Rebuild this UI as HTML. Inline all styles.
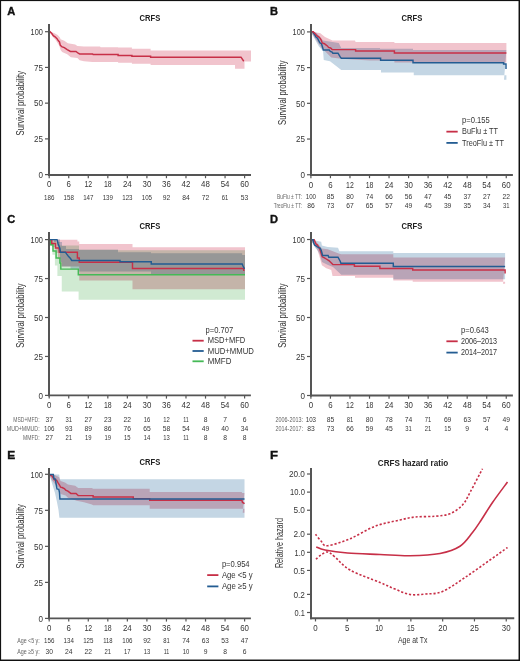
<!DOCTYPE html>
<html><head><meta charset="utf-8"><style>
html,body{margin:0;padding:0;background:#fff;}
body{width:520px;height:661px;overflow:hidden;}
svg{display:block;font-family:"Liberation Sans", sans-serif;will-change:transform;}
</style></head><body>
<svg width="520" height="661" viewBox="0 0 520 661">
<rect x="0" y="0" width="520" height="661" fill="#fff"/>
<text x="7.2" y="15.2" font-size="10.6" text-anchor="start" fill="#111" font-weight="bold" textLength="8.0" lengthAdjust="spacingAndGlyphs" stroke="#111" stroke-width="0.35">A</text>
<text x="149.9" y="21.0" font-size="8.9" text-anchor="middle" fill="#222" font-weight="bold" textLength="20.8" lengthAdjust="spacingAndGlyphs">CRFS</text>
<polygon points="49.20,31.50 54.00,33.10 57.70,34.90 59.90,37.50 60.60,39.30 64.30,40.80 67.90,43.35 75.20,44.40 77.40,45.90 84.00,46.60 100.00,46.60 100.60,47.25 118.10,47.25 118.10,47.50 131.90,47.50 131.90,48.75 150.60,48.75 150.60,50.60 251.00,50.60 251.00,61.50 244.50,61.50 244.50,68.75 235.00,68.75 235.00,65.00 150.60,65.00 150.60,63.75 131.90,63.75 131.90,62.75 118.10,62.75 118.10,61.90 92.50,61.90 84.00,61.30 79.60,60.20 77.40,58.00 70.85,57.20 67.20,54.30 62.10,52.10 60.60,49.90 59.20,45.50 55.50,39.70 53.30,37.50 49.20,31.70" fill="#f1c4cd" stroke="none" style="mix-blend-mode:multiply"/>
<polyline points="49.60,31.40 51.85,33.50 53.30,35.70 55.10,36.80 57.00,38.60 58.40,40.80 59.50,41.90 60.25,45.20 61.70,46.60 64.30,47.70 67.20,49.60 70.50,51.40 76.00,51.40 78.20,53.20 79.60,53.95 92.50,53.95 93.10,54.40 118.10,54.40 118.10,55.40 131.90,55.40 131.90,56.25 150.60,56.25 150.60,57.20 241.00,57.20 243.75,61.25" fill="none" stroke="#c72f47" stroke-width="1.45" stroke-linejoin="miter"/>
<line x1="49.0" y1="24.0" x2="49.0" y2="175.9" stroke="#555" stroke-width="2"/>
<line x1="48.0" y1="175.0" x2="251.0" y2="175.0" stroke="#555" stroke-width="1.8"/>
<line x1="45.0" y1="31.7" x2="49.0" y2="31.7" stroke="#555" stroke-width="1.2"/>
<text x="42.9" y="34.9" font-size="9.2" text-anchor="end" fill="#353535" font-weight="normal" textLength="12.3" lengthAdjust="spacingAndGlyphs">100</text>
<line x1="45.0" y1="67.425" x2="49.0" y2="67.425" stroke="#555" stroke-width="1.2"/>
<text x="42.9" y="70.625" font-size="9.2" text-anchor="end" fill="#353535" font-weight="normal" textLength="9.0" lengthAdjust="spacingAndGlyphs">75</text>
<line x1="45.0" y1="103.15" x2="49.0" y2="103.15" stroke="#555" stroke-width="1.2"/>
<text x="42.9" y="106.35000000000001" font-size="9.2" text-anchor="end" fill="#353535" font-weight="normal" textLength="9.0" lengthAdjust="spacingAndGlyphs">50</text>
<line x1="45.0" y1="138.875" x2="49.0" y2="138.875" stroke="#555" stroke-width="1.2"/>
<text x="42.9" y="142.075" font-size="9.2" text-anchor="end" fill="#353535" font-weight="normal" textLength="9.0" lengthAdjust="spacingAndGlyphs">25</text>
<line x1="45.0" y1="174.6" x2="49.0" y2="174.6" stroke="#555" stroke-width="1.2"/>
<text x="42.9" y="177.79999999999998" font-size="9.2" text-anchor="end" fill="#353535" font-weight="normal" textLength="4.5" lengthAdjust="spacingAndGlyphs">0</text>
<line x1="49.2" y1="175.0" x2="49.2" y2="178.2" stroke="#555" stroke-width="1.2"/>
<text x="49.2" y="187.4" font-size="9.4" text-anchor="middle" fill="#353535" font-weight="normal" textLength="4.4" lengthAdjust="spacingAndGlyphs">0</text>
<line x1="68.74000000000001" y1="175.0" x2="68.74000000000001" y2="178.2" stroke="#555" stroke-width="1.2"/>
<text x="68.74000000000001" y="187.4" font-size="9.4" text-anchor="middle" fill="#353535" font-weight="normal" textLength="4.4" lengthAdjust="spacingAndGlyphs">6</text>
<line x1="88.28" y1="175.0" x2="88.28" y2="178.2" stroke="#555" stroke-width="1.2"/>
<text x="88.28" y="187.4" font-size="9.4" text-anchor="middle" fill="#353535" font-weight="normal" textLength="7.7" lengthAdjust="spacingAndGlyphs">12</text>
<line x1="107.82" y1="175.0" x2="107.82" y2="178.2" stroke="#555" stroke-width="1.2"/>
<text x="107.82" y="187.4" font-size="9.4" text-anchor="middle" fill="#353535" font-weight="normal" textLength="7.7" lengthAdjust="spacingAndGlyphs">18</text>
<line x1="127.36" y1="175.0" x2="127.36" y2="178.2" stroke="#555" stroke-width="1.2"/>
<text x="127.36" y="187.4" font-size="9.4" text-anchor="middle" fill="#353535" font-weight="normal" textLength="8.8" lengthAdjust="spacingAndGlyphs">24</text>
<line x1="146.89999999999998" y1="175.0" x2="146.89999999999998" y2="178.2" stroke="#555" stroke-width="1.2"/>
<text x="146.89999999999998" y="187.4" font-size="9.4" text-anchor="middle" fill="#353535" font-weight="normal" textLength="8.8" lengthAdjust="spacingAndGlyphs">30</text>
<line x1="166.44" y1="175.0" x2="166.44" y2="178.2" stroke="#555" stroke-width="1.2"/>
<text x="166.44" y="187.4" font-size="9.4" text-anchor="middle" fill="#353535" font-weight="normal" textLength="8.8" lengthAdjust="spacingAndGlyphs">36</text>
<line x1="185.98000000000002" y1="175.0" x2="185.98000000000002" y2="178.2" stroke="#555" stroke-width="1.2"/>
<text x="185.98000000000002" y="187.4" font-size="9.4" text-anchor="middle" fill="#353535" font-weight="normal" textLength="8.8" lengthAdjust="spacingAndGlyphs">42</text>
<line x1="205.51999999999998" y1="175.0" x2="205.51999999999998" y2="178.2" stroke="#555" stroke-width="1.2"/>
<text x="205.51999999999998" y="187.4" font-size="9.4" text-anchor="middle" fill="#353535" font-weight="normal" textLength="8.8" lengthAdjust="spacingAndGlyphs">48</text>
<line x1="225.06" y1="175.0" x2="225.06" y2="178.2" stroke="#555" stroke-width="1.2"/>
<text x="225.06" y="187.4" font-size="9.4" text-anchor="middle" fill="#353535" font-weight="normal" textLength="8.8" lengthAdjust="spacingAndGlyphs">54</text>
<line x1="244.59999999999997" y1="175.0" x2="244.59999999999997" y2="178.2" stroke="#555" stroke-width="1.2"/>
<text x="244.59999999999997" y="187.4" font-size="9.4" text-anchor="middle" fill="#353535" font-weight="normal" textLength="8.8" lengthAdjust="spacingAndGlyphs">60</text>
<text x="0" y="0" font-size="10" text-anchor="middle" fill="#353535" textLength="64.5" lengthAdjust="spacingAndGlyphs" transform="translate(23.9,103.2) rotate(-90)">Survival probability</text>
<text x="49.20" y="200.0" font-size="7.2" text-anchor="middle" fill="#353535" font-weight="normal" textLength="10.3" lengthAdjust="spacingAndGlyphs">186</text>
<text x="68.74" y="200.0" font-size="7.2" text-anchor="middle" fill="#353535" font-weight="normal" textLength="10.3" lengthAdjust="spacingAndGlyphs">158</text>
<text x="88.28" y="200.0" font-size="7.2" text-anchor="middle" fill="#353535" font-weight="normal" textLength="10.3" lengthAdjust="spacingAndGlyphs">147</text>
<text x="107.82" y="200.0" font-size="7.2" text-anchor="middle" fill="#353535" font-weight="normal" textLength="10.3" lengthAdjust="spacingAndGlyphs">139</text>
<text x="127.36" y="200.0" font-size="7.2" text-anchor="middle" fill="#353535" font-weight="normal" textLength="10.3" lengthAdjust="spacingAndGlyphs">123</text>
<text x="146.90" y="200.0" font-size="7.2" text-anchor="middle" fill="#353535" font-weight="normal" textLength="10.3" lengthAdjust="spacingAndGlyphs">105</text>
<text x="166.44" y="200.0" font-size="7.2" text-anchor="middle" fill="#353535" font-weight="normal" textLength="7.5" lengthAdjust="spacingAndGlyphs">92</text>
<text x="185.98" y="200.0" font-size="7.2" text-anchor="middle" fill="#353535" font-weight="normal" textLength="7.5" lengthAdjust="spacingAndGlyphs">84</text>
<text x="205.52" y="200.0" font-size="7.2" text-anchor="middle" fill="#353535" font-weight="normal" textLength="7.5" lengthAdjust="spacingAndGlyphs">72</text>
<text x="225.06" y="200.0" font-size="7.2" text-anchor="middle" fill="#353535" font-weight="normal" textLength="6.55" lengthAdjust="spacingAndGlyphs">61</text>
<text x="244.60" y="200.0" font-size="7.2" text-anchor="middle" fill="#353535" font-weight="normal" textLength="7.5" lengthAdjust="spacingAndGlyphs">53</text>
<text x="270" y="15.2" font-size="10.6" text-anchor="start" fill="#111" font-weight="bold" textLength="8.0" lengthAdjust="spacingAndGlyphs" stroke="#111" stroke-width="0.35">B</text>
<text x="411.95" y="21.0" font-size="8.9" text-anchor="middle" fill="#222" font-weight="bold" textLength="20.8" lengthAdjust="spacingAndGlyphs">CRFS</text>
<polygon points="310.90,31.90 316.25,32.50 323.00,40.60 338.75,43.10 341.25,48.10 380.00,48.10 380.00,48.75 413.00,48.75 413.00,50.00 506.40,50.00 504.00,79.80 506.40,79.80 506.40,75.30 413.75,75.30 413.75,72.50 381.00,72.50 381.00,70.00 341.25,70.00 330.00,61.25 323.75,60.00 323.10,51.25 318.75,46.25 310.90,31.90" fill="#c4d6e4" stroke="none" style="mix-blend-mode:multiply"/>
<polygon points="310.90,31.90 320.00,33.10 325.00,36.90 332.50,40.60 355.00,40.60 355.60,41.90 394.40,41.90 394.40,43.10 506.40,43.10 506.40,62.50 394.40,62.50 394.40,60.60 370.00,60.60 341.25,58.75 331.25,57.50 327.50,53.75 321.25,47.50 310.90,31.90" fill="#f1c4cd" stroke="none" style="mix-blend-mode:multiply"/>
<polyline points="310.90,31.80 312.75,31.80 313.85,33.50 315.30,35.70 316.00,37.10 317.50,38.20 318.60,40.40 320.00,43.00 321.50,43.70 322.25,46.30 323.35,49.90 329.20,49.90 330.30,51.40 332.10,52.10 332.85,53.20 338.00,53.20 340.20,56.90 341.30,58.20 380.60,58.20 380.60,60.25 413.00,60.25 413.00,62.80 503.60,62.80 503.60,64.00 506.00,64.00 506.00,68.90" fill="none" stroke="#235c92" stroke-width="1.45" stroke-linejoin="miter"/>
<polyline points="310.90,31.80 313.10,31.80 314.60,33.10 316.00,34.60 317.10,36.00 319.00,37.10 320.40,38.60 321.20,40.10 322.25,43.00 324.45,43.70 325.90,44.80 327.40,45.90 328.50,47.40 329.90,47.70 331.40,48.50 332.10,49.60 355.60,49.60 355.60,50.90 394.40,50.90 394.40,52.90 506.40,52.90" fill="none" stroke="#c72f47" stroke-width="1.45" stroke-linejoin="miter"/>
<line x1="311.0" y1="24.0" x2="311.0" y2="175.9" stroke="#555" stroke-width="2"/>
<line x1="310.0" y1="175.0" x2="512.9" y2="175.0" stroke="#555" stroke-width="1.8"/>
<line x1="307.0" y1="31.9" x2="311.0" y2="31.9" stroke="#555" stroke-width="1.2"/>
<text x="304.9" y="35.1" font-size="9.2" text-anchor="end" fill="#353535" font-weight="normal" textLength="12.3" lengthAdjust="spacingAndGlyphs">100</text>
<line x1="307.0" y1="67.6125" x2="311.0" y2="67.6125" stroke="#555" stroke-width="1.2"/>
<text x="304.9" y="70.8125" font-size="9.2" text-anchor="end" fill="#353535" font-weight="normal" textLength="9.0" lengthAdjust="spacingAndGlyphs">75</text>
<line x1="307.0" y1="103.32499999999999" x2="311.0" y2="103.32499999999999" stroke="#555" stroke-width="1.2"/>
<text x="304.9" y="106.52499999999999" font-size="9.2" text-anchor="end" fill="#353535" font-weight="normal" textLength="9.0" lengthAdjust="spacingAndGlyphs">50</text>
<line x1="307.0" y1="139.0375" x2="311.0" y2="139.0375" stroke="#555" stroke-width="1.2"/>
<text x="304.9" y="142.23749999999998" font-size="9.2" text-anchor="end" fill="#353535" font-weight="normal" textLength="9.0" lengthAdjust="spacingAndGlyphs">25</text>
<line x1="307.0" y1="174.75" x2="311.0" y2="174.75" stroke="#555" stroke-width="1.2"/>
<text x="304.9" y="177.95" font-size="9.2" text-anchor="end" fill="#353535" font-weight="normal" textLength="4.5" lengthAdjust="spacingAndGlyphs">0</text>
<line x1="310.9" y1="175.0" x2="310.9" y2="178.2" stroke="#555" stroke-width="1.2"/>
<text x="310.9" y="187.55" font-size="9.4" text-anchor="middle" fill="#353535" font-weight="normal" textLength="4.4" lengthAdjust="spacingAndGlyphs">0</text>
<line x1="330.435" y1="175.0" x2="330.435" y2="178.2" stroke="#555" stroke-width="1.2"/>
<text x="330.435" y="187.55" font-size="9.4" text-anchor="middle" fill="#353535" font-weight="normal" textLength="4.4" lengthAdjust="spacingAndGlyphs">6</text>
<line x1="349.96999999999997" y1="175.0" x2="349.96999999999997" y2="178.2" stroke="#555" stroke-width="1.2"/>
<text x="349.96999999999997" y="187.55" font-size="9.4" text-anchor="middle" fill="#353535" font-weight="normal" textLength="7.7" lengthAdjust="spacingAndGlyphs">12</text>
<line x1="369.505" y1="175.0" x2="369.505" y2="178.2" stroke="#555" stroke-width="1.2"/>
<text x="369.505" y="187.55" font-size="9.4" text-anchor="middle" fill="#353535" font-weight="normal" textLength="7.7" lengthAdjust="spacingAndGlyphs">18</text>
<line x1="389.03999999999996" y1="175.0" x2="389.03999999999996" y2="178.2" stroke="#555" stroke-width="1.2"/>
<text x="389.03999999999996" y="187.55" font-size="9.4" text-anchor="middle" fill="#353535" font-weight="normal" textLength="8.8" lengthAdjust="spacingAndGlyphs">24</text>
<line x1="408.575" y1="175.0" x2="408.575" y2="178.2" stroke="#555" stroke-width="1.2"/>
<text x="408.575" y="187.55" font-size="9.4" text-anchor="middle" fill="#353535" font-weight="normal" textLength="8.8" lengthAdjust="spacingAndGlyphs">30</text>
<line x1="428.11" y1="175.0" x2="428.11" y2="178.2" stroke="#555" stroke-width="1.2"/>
<text x="428.11" y="187.55" font-size="9.4" text-anchor="middle" fill="#353535" font-weight="normal" textLength="8.8" lengthAdjust="spacingAndGlyphs">36</text>
<line x1="447.645" y1="175.0" x2="447.645" y2="178.2" stroke="#555" stroke-width="1.2"/>
<text x="447.645" y="187.55" font-size="9.4" text-anchor="middle" fill="#353535" font-weight="normal" textLength="8.8" lengthAdjust="spacingAndGlyphs">42</text>
<line x1="467.18" y1="175.0" x2="467.18" y2="178.2" stroke="#555" stroke-width="1.2"/>
<text x="467.18" y="187.55" font-size="9.4" text-anchor="middle" fill="#353535" font-weight="normal" textLength="8.8" lengthAdjust="spacingAndGlyphs">48</text>
<line x1="486.71500000000003" y1="175.0" x2="486.71500000000003" y2="178.2" stroke="#555" stroke-width="1.2"/>
<text x="486.71500000000003" y="187.55" font-size="9.4" text-anchor="middle" fill="#353535" font-weight="normal" textLength="8.8" lengthAdjust="spacingAndGlyphs">54</text>
<line x1="506.25" y1="175.0" x2="506.25" y2="178.2" stroke="#555" stroke-width="1.2"/>
<text x="506.25" y="187.55" font-size="9.4" text-anchor="middle" fill="#353535" font-weight="normal" textLength="8.8" lengthAdjust="spacingAndGlyphs">60</text>
<text x="0" y="0" font-size="10" text-anchor="middle" fill="#353535" textLength="64.5" lengthAdjust="spacingAndGlyphs" transform="translate(285.6,92.7) rotate(-90)">Survival probability</text>
<text x="310.90" y="198.6" font-size="7.2" text-anchor="middle" fill="#353535" font-weight="normal" textLength="10.3" lengthAdjust="spacingAndGlyphs">100</text>
<text x="330.44" y="198.6" font-size="7.2" text-anchor="middle" fill="#353535" font-weight="normal" textLength="7.5" lengthAdjust="spacingAndGlyphs">85</text>
<text x="349.97" y="198.6" font-size="7.2" text-anchor="middle" fill="#353535" font-weight="normal" textLength="7.5" lengthAdjust="spacingAndGlyphs">80</text>
<text x="369.50" y="198.6" font-size="7.2" text-anchor="middle" fill="#353535" font-weight="normal" textLength="7.5" lengthAdjust="spacingAndGlyphs">74</text>
<text x="389.04" y="198.6" font-size="7.2" text-anchor="middle" fill="#353535" font-weight="normal" textLength="7.5" lengthAdjust="spacingAndGlyphs">66</text>
<text x="408.57" y="198.6" font-size="7.2" text-anchor="middle" fill="#353535" font-weight="normal" textLength="7.5" lengthAdjust="spacingAndGlyphs">56</text>
<text x="428.11" y="198.6" font-size="7.2" text-anchor="middle" fill="#353535" font-weight="normal" textLength="7.5" lengthAdjust="spacingAndGlyphs">47</text>
<text x="447.64" y="198.6" font-size="7.2" text-anchor="middle" fill="#353535" font-weight="normal" textLength="7.5" lengthAdjust="spacingAndGlyphs">45</text>
<text x="467.18" y="198.6" font-size="7.2" text-anchor="middle" fill="#353535" font-weight="normal" textLength="7.5" lengthAdjust="spacingAndGlyphs">37</text>
<text x="486.72" y="198.6" font-size="7.2" text-anchor="middle" fill="#353535" font-weight="normal" textLength="7.5" lengthAdjust="spacingAndGlyphs">27</text>
<text x="506.25" y="198.6" font-size="7.2" text-anchor="middle" fill="#353535" font-weight="normal" textLength="7.5" lengthAdjust="spacingAndGlyphs">22</text>
<text x="301.9" y="198.6" font-size="7.0" text-anchor="end" fill="#666" font-weight="normal" textLength="25" lengthAdjust="spacingAndGlyphs">BuFlu ± TT:</text>
<text x="310.90" y="208.0" font-size="7.2" text-anchor="middle" fill="#353535" font-weight="normal" textLength="7.5" lengthAdjust="spacingAndGlyphs">86</text>
<text x="330.44" y="208.0" font-size="7.2" text-anchor="middle" fill="#353535" font-weight="normal" textLength="7.5" lengthAdjust="spacingAndGlyphs">73</text>
<text x="349.97" y="208.0" font-size="7.2" text-anchor="middle" fill="#353535" font-weight="normal" textLength="7.5" lengthAdjust="spacingAndGlyphs">67</text>
<text x="369.50" y="208.0" font-size="7.2" text-anchor="middle" fill="#353535" font-weight="normal" textLength="7.5" lengthAdjust="spacingAndGlyphs">65</text>
<text x="389.04" y="208.0" font-size="7.2" text-anchor="middle" fill="#353535" font-weight="normal" textLength="7.5" lengthAdjust="spacingAndGlyphs">57</text>
<text x="408.57" y="208.0" font-size="7.2" text-anchor="middle" fill="#353535" font-weight="normal" textLength="7.5" lengthAdjust="spacingAndGlyphs">49</text>
<text x="428.11" y="208.0" font-size="7.2" text-anchor="middle" fill="#353535" font-weight="normal" textLength="7.5" lengthAdjust="spacingAndGlyphs">45</text>
<text x="447.64" y="208.0" font-size="7.2" text-anchor="middle" fill="#353535" font-weight="normal" textLength="7.5" lengthAdjust="spacingAndGlyphs">39</text>
<text x="467.18" y="208.0" font-size="7.2" text-anchor="middle" fill="#353535" font-weight="normal" textLength="7.5" lengthAdjust="spacingAndGlyphs">35</text>
<text x="486.72" y="208.0" font-size="7.2" text-anchor="middle" fill="#353535" font-weight="normal" textLength="7.5" lengthAdjust="spacingAndGlyphs">34</text>
<text x="506.25" y="208.0" font-size="7.2" text-anchor="middle" fill="#353535" font-weight="normal" textLength="6.55" lengthAdjust="spacingAndGlyphs">31</text>
<text x="301.9" y="208.0" font-size="7.0" text-anchor="end" fill="#666" font-weight="normal" textLength="28.2" lengthAdjust="spacingAndGlyphs">TreoFlu ± TT:</text>
<text x="462" y="123.30000000000001" font-size="8.8" text-anchor="start" fill="#353535" font-weight="normal" textLength="27.7" lengthAdjust="spacingAndGlyphs">p=0.155</text>
<line x1="446.4" y1="131.65" x2="457.7" y2="131.65" stroke="#c72f47" stroke-width="1.8"/>
<text x="462" y="134.25" font-size="8.8" text-anchor="start" fill="#353535" font-weight="normal" textLength="36" lengthAdjust="spacingAndGlyphs">BuFlu ± TT</text>
<line x1="446.4" y1="142.9" x2="457.7" y2="142.9" stroke="#235c92" stroke-width="1.8"/>
<text x="462" y="145.5" font-size="8.8" text-anchor="start" fill="#353535" font-weight="normal" textLength="41.9" lengthAdjust="spacingAndGlyphs">TreoFlu ± TT</text>
<text x="7.2" y="223.3" font-size="10.6" text-anchor="start" fill="#111" font-weight="bold" textLength="8.0" lengthAdjust="spacingAndGlyphs" stroke="#111" stroke-width="0.35">C</text>
<text x="149.9" y="228.9" font-size="8.9" text-anchor="middle" fill="#222" font-weight="bold" textLength="20.8" lengthAdjust="spacingAndGlyphs">CRFS</text>
<polygon points="49.20,239.60 52.00,239.60 52.00,240.00 56.00,240.00 56.00,242.00 60.00,242.00 60.00,245.40 79.00,245.40 79.00,249.75 118.00,249.75 118.00,250.20 245.00,250.20 245.00,299.75 78.60,299.75 78.60,291.60 61.75,291.60 61.75,276.00 57.40,276.00 57.40,265.40 54.90,265.40 54.90,254.75 52.40,254.75 52.40,246.00 50.50,246.00 50.50,239.60 49.20,239.60" fill="#d0ead2" stroke="none" style="mix-blend-mode:multiply"/>
<polygon points="49.20,239.60 57.00,239.60 57.00,239.60 60.00,239.60 60.00,242.00 62.00,242.00 62.00,246.00 66.00,246.00 66.00,249.00 79.00,249.00 79.00,249.75 118.00,249.75 118.00,252.20 151.00,252.20 151.00,253.20 242.20,253.20 242.20,255.00 245.00,255.00 245.00,274.00 151.00,274.00 151.00,271.60 79.00,271.60 79.00,269.00 70.50,269.00 70.50,266.60 62.00,266.60 62.00,262.00 60.00,262.00 60.00,252.00 58.50,252.00 58.50,246.00 57.40,246.00 57.40,242.00 54.00,242.00 54.00,239.60 49.20,239.60" fill="#c4d6e4" stroke="none" style="mix-blend-mode:multiply"/>
<polygon points="49.20,239.60 59.90,239.60 59.90,239.75 77.40,239.75 77.40,241.60 79.25,241.60 79.25,244.00 132.50,244.00 132.50,247.20 245.00,247.20 245.00,289.30 132.50,289.30 132.50,280.40 79.25,280.40 79.25,266.60 60.50,266.60 60.50,259.00 58.00,259.00 58.00,253.00 55.50,253.00 55.50,247.00 52.00,247.00 52.00,243.00 50.50,243.00 50.50,239.60 49.20,239.60" fill="#f1c4cd" stroke="none" style="mix-blend-mode:multiply"/>
<polyline points="49.20,239.60 50.75,239.60 50.75,244.75 53.00,244.75 53.00,251.00 56.10,251.00 56.10,257.90 59.90,257.90 59.90,262.90 60.80,262.90 60.80,269.10 78.30,269.10 78.30,274.75 245.00,274.75" fill="none" stroke="#45b956" stroke-width="1.45" stroke-linejoin="miter"/>
<polyline points="49.20,239.60 51.75,239.60 51.75,243.50 55.50,243.50 55.50,247.90 59.25,247.90 59.25,252.25 77.40,252.25 77.40,257.90 79.25,257.90 79.25,262.25 132.50,262.25 132.50,268.50 243.75,268.50 243.75,271.00" fill="none" stroke="#c72f47" stroke-width="1.45" stroke-linejoin="miter"/>
<polyline points="49.20,239.60 57.00,239.60 57.40,240.40 57.40,240.40 58.00,243.50 59.90,248.50 60.50,252.25 65.50,252.25 66.75,254.10 68.60,256.60 70.50,258.50 71.75,260.40 71.75,260.40 120.00,260.40 120.00,261.80 151.25,261.80 151.25,264.00 242.20,264.00 243.00,266.00 244.50,268.80" fill="none" stroke="#235c92" stroke-width="1.45" stroke-linejoin="miter"/>
<line x1="49.0" y1="232.0" x2="49.0" y2="396.29999999999995" stroke="#555" stroke-width="2"/>
<line x1="48.0" y1="395.4" x2="250.9" y2="395.4" stroke="#555" stroke-width="1.8"/>
<line x1="45.0" y1="239.6" x2="49.0" y2="239.6" stroke="#555" stroke-width="1.2"/>
<text x="42.9" y="242.79999999999998" font-size="9.2" text-anchor="end" fill="#353535" font-weight="normal" textLength="12.3" lengthAdjust="spacingAndGlyphs">100</text>
<line x1="45.0" y1="278.55" x2="49.0" y2="278.55" stroke="#555" stroke-width="1.2"/>
<text x="42.9" y="281.75" font-size="9.2" text-anchor="end" fill="#353535" font-weight="normal" textLength="9.0" lengthAdjust="spacingAndGlyphs">75</text>
<line x1="45.0" y1="317.5" x2="49.0" y2="317.5" stroke="#555" stroke-width="1.2"/>
<text x="42.9" y="320.7" font-size="9.2" text-anchor="end" fill="#353535" font-weight="normal" textLength="9.0" lengthAdjust="spacingAndGlyphs">50</text>
<line x1="45.0" y1="356.45" x2="49.0" y2="356.45" stroke="#555" stroke-width="1.2"/>
<text x="42.9" y="359.65" font-size="9.2" text-anchor="end" fill="#353535" font-weight="normal" textLength="9.0" lengthAdjust="spacingAndGlyphs">25</text>
<line x1="45.0" y1="395.4" x2="49.0" y2="395.4" stroke="#555" stroke-width="1.2"/>
<text x="42.9" y="398.59999999999997" font-size="9.2" text-anchor="end" fill="#353535" font-weight="normal" textLength="4.5" lengthAdjust="spacingAndGlyphs">0</text>
<line x1="49.2" y1="395.4" x2="49.2" y2="398.59999999999997" stroke="#555" stroke-width="1.2"/>
<text x="49.2" y="408.2" font-size="9.4" text-anchor="middle" fill="#353535" font-weight="normal" textLength="4.4" lengthAdjust="spacingAndGlyphs">0</text>
<line x1="68.74000000000001" y1="395.4" x2="68.74000000000001" y2="398.59999999999997" stroke="#555" stroke-width="1.2"/>
<text x="68.74000000000001" y="408.2" font-size="9.4" text-anchor="middle" fill="#353535" font-weight="normal" textLength="4.4" lengthAdjust="spacingAndGlyphs">6</text>
<line x1="88.28" y1="395.4" x2="88.28" y2="398.59999999999997" stroke="#555" stroke-width="1.2"/>
<text x="88.28" y="408.2" font-size="9.4" text-anchor="middle" fill="#353535" font-weight="normal" textLength="7.7" lengthAdjust="spacingAndGlyphs">12</text>
<line x1="107.82" y1="395.4" x2="107.82" y2="398.59999999999997" stroke="#555" stroke-width="1.2"/>
<text x="107.82" y="408.2" font-size="9.4" text-anchor="middle" fill="#353535" font-weight="normal" textLength="7.7" lengthAdjust="spacingAndGlyphs">18</text>
<line x1="127.36" y1="395.4" x2="127.36" y2="398.59999999999997" stroke="#555" stroke-width="1.2"/>
<text x="127.36" y="408.2" font-size="9.4" text-anchor="middle" fill="#353535" font-weight="normal" textLength="8.8" lengthAdjust="spacingAndGlyphs">24</text>
<line x1="146.89999999999998" y1="395.4" x2="146.89999999999998" y2="398.59999999999997" stroke="#555" stroke-width="1.2"/>
<text x="146.89999999999998" y="408.2" font-size="9.4" text-anchor="middle" fill="#353535" font-weight="normal" textLength="8.8" lengthAdjust="spacingAndGlyphs">30</text>
<line x1="166.44" y1="395.4" x2="166.44" y2="398.59999999999997" stroke="#555" stroke-width="1.2"/>
<text x="166.44" y="408.2" font-size="9.4" text-anchor="middle" fill="#353535" font-weight="normal" textLength="8.8" lengthAdjust="spacingAndGlyphs">36</text>
<line x1="185.98000000000002" y1="395.4" x2="185.98000000000002" y2="398.59999999999997" stroke="#555" stroke-width="1.2"/>
<text x="185.98000000000002" y="408.2" font-size="9.4" text-anchor="middle" fill="#353535" font-weight="normal" textLength="8.8" lengthAdjust="spacingAndGlyphs">42</text>
<line x1="205.51999999999998" y1="395.4" x2="205.51999999999998" y2="398.59999999999997" stroke="#555" stroke-width="1.2"/>
<text x="205.51999999999998" y="408.2" font-size="9.4" text-anchor="middle" fill="#353535" font-weight="normal" textLength="8.8" lengthAdjust="spacingAndGlyphs">48</text>
<line x1="225.06" y1="395.4" x2="225.06" y2="398.59999999999997" stroke="#555" stroke-width="1.2"/>
<text x="225.06" y="408.2" font-size="9.4" text-anchor="middle" fill="#353535" font-weight="normal" textLength="8.8" lengthAdjust="spacingAndGlyphs">54</text>
<line x1="244.59999999999997" y1="395.4" x2="244.59999999999997" y2="398.59999999999997" stroke="#555" stroke-width="1.2"/>
<text x="244.59999999999997" y="408.2" font-size="9.4" text-anchor="middle" fill="#353535" font-weight="normal" textLength="8.8" lengthAdjust="spacingAndGlyphs">60</text>
<text x="0" y="0" font-size="10" text-anchor="middle" fill="#353535" textLength="64.5" lengthAdjust="spacingAndGlyphs" transform="translate(23.9,315.6) rotate(-90)">Survival probability</text>
<text x="49.20" y="421.85" font-size="7.2" text-anchor="middle" fill="#353535" font-weight="normal" textLength="7.5" lengthAdjust="spacingAndGlyphs">37</text>
<text x="68.74" y="421.85" font-size="7.2" text-anchor="middle" fill="#353535" font-weight="normal" textLength="6.55" lengthAdjust="spacingAndGlyphs">31</text>
<text x="88.28" y="421.85" font-size="7.2" text-anchor="middle" fill="#353535" font-weight="normal" textLength="7.5" lengthAdjust="spacingAndGlyphs">27</text>
<text x="107.82" y="421.85" font-size="7.2" text-anchor="middle" fill="#353535" font-weight="normal" textLength="7.5" lengthAdjust="spacingAndGlyphs">23</text>
<text x="127.36" y="421.85" font-size="7.2" text-anchor="middle" fill="#353535" font-weight="normal" textLength="7.5" lengthAdjust="spacingAndGlyphs">22</text>
<text x="146.90" y="421.85" font-size="7.2" text-anchor="middle" fill="#353535" font-weight="normal" textLength="6.55" lengthAdjust="spacingAndGlyphs">16</text>
<text x="166.44" y="421.85" font-size="7.2" text-anchor="middle" fill="#353535" font-weight="normal" textLength="6.55" lengthAdjust="spacingAndGlyphs">12</text>
<text x="185.98" y="421.85" font-size="7.2" text-anchor="middle" fill="#353535" font-weight="normal" textLength="5.6" lengthAdjust="spacingAndGlyphs">11</text>
<text x="205.52" y="421.85" font-size="7.2" text-anchor="middle" fill="#353535" font-weight="normal" textLength="3.75" lengthAdjust="spacingAndGlyphs">8</text>
<text x="225.06" y="421.85" font-size="7.2" text-anchor="middle" fill="#353535" font-weight="normal" textLength="3.75" lengthAdjust="spacingAndGlyphs">7</text>
<text x="244.60" y="421.85" font-size="7.2" text-anchor="middle" fill="#353535" font-weight="normal" textLength="3.75" lengthAdjust="spacingAndGlyphs">6</text>
<text x="39.6" y="421.85" font-size="7.0" text-anchor="end" fill="#666" font-weight="normal" textLength="26.3" lengthAdjust="spacingAndGlyphs">MSD+MFD:</text>
<text x="49.20" y="431.35" font-size="7.2" text-anchor="middle" fill="#353535" font-weight="normal" textLength="10.3" lengthAdjust="spacingAndGlyphs">106</text>
<text x="68.74" y="431.35" font-size="7.2" text-anchor="middle" fill="#353535" font-weight="normal" textLength="7.5" lengthAdjust="spacingAndGlyphs">93</text>
<text x="88.28" y="431.35" font-size="7.2" text-anchor="middle" fill="#353535" font-weight="normal" textLength="7.5" lengthAdjust="spacingAndGlyphs">89</text>
<text x="107.82" y="431.35" font-size="7.2" text-anchor="middle" fill="#353535" font-weight="normal" textLength="7.5" lengthAdjust="spacingAndGlyphs">86</text>
<text x="127.36" y="431.35" font-size="7.2" text-anchor="middle" fill="#353535" font-weight="normal" textLength="7.5" lengthAdjust="spacingAndGlyphs">76</text>
<text x="146.90" y="431.35" font-size="7.2" text-anchor="middle" fill="#353535" font-weight="normal" textLength="7.5" lengthAdjust="spacingAndGlyphs">65</text>
<text x="166.44" y="431.35" font-size="7.2" text-anchor="middle" fill="#353535" font-weight="normal" textLength="7.5" lengthAdjust="spacingAndGlyphs">58</text>
<text x="185.98" y="431.35" font-size="7.2" text-anchor="middle" fill="#353535" font-weight="normal" textLength="7.5" lengthAdjust="spacingAndGlyphs">54</text>
<text x="205.52" y="431.35" font-size="7.2" text-anchor="middle" fill="#353535" font-weight="normal" textLength="7.5" lengthAdjust="spacingAndGlyphs">49</text>
<text x="225.06" y="431.35" font-size="7.2" text-anchor="middle" fill="#353535" font-weight="normal" textLength="7.5" lengthAdjust="spacingAndGlyphs">40</text>
<text x="244.60" y="431.35" font-size="7.2" text-anchor="middle" fill="#353535" font-weight="normal" textLength="7.5" lengthAdjust="spacingAndGlyphs">34</text>
<text x="39.6" y="431.35" font-size="7.0" text-anchor="end" fill="#666" font-weight="normal" textLength="32.8" lengthAdjust="spacingAndGlyphs">MUD+MMUD:</text>
<text x="49.20" y="440.1" font-size="7.2" text-anchor="middle" fill="#353535" font-weight="normal" textLength="7.5" lengthAdjust="spacingAndGlyphs">27</text>
<text x="68.74" y="440.1" font-size="7.2" text-anchor="middle" fill="#353535" font-weight="normal" textLength="6.55" lengthAdjust="spacingAndGlyphs">21</text>
<text x="88.28" y="440.1" font-size="7.2" text-anchor="middle" fill="#353535" font-weight="normal" textLength="6.55" lengthAdjust="spacingAndGlyphs">19</text>
<text x="107.82" y="440.1" font-size="7.2" text-anchor="middle" fill="#353535" font-weight="normal" textLength="6.55" lengthAdjust="spacingAndGlyphs">19</text>
<text x="127.36" y="440.1" font-size="7.2" text-anchor="middle" fill="#353535" font-weight="normal" textLength="6.55" lengthAdjust="spacingAndGlyphs">15</text>
<text x="146.90" y="440.1" font-size="7.2" text-anchor="middle" fill="#353535" font-weight="normal" textLength="6.55" lengthAdjust="spacingAndGlyphs">14</text>
<text x="166.44" y="440.1" font-size="7.2" text-anchor="middle" fill="#353535" font-weight="normal" textLength="6.55" lengthAdjust="spacingAndGlyphs">13</text>
<text x="185.98" y="440.1" font-size="7.2" text-anchor="middle" fill="#353535" font-weight="normal" textLength="5.6" lengthAdjust="spacingAndGlyphs">11</text>
<text x="205.52" y="440.1" font-size="7.2" text-anchor="middle" fill="#353535" font-weight="normal" textLength="3.75" lengthAdjust="spacingAndGlyphs">8</text>
<text x="225.06" y="440.1" font-size="7.2" text-anchor="middle" fill="#353535" font-weight="normal" textLength="3.75" lengthAdjust="spacingAndGlyphs">8</text>
<text x="244.60" y="440.1" font-size="7.2" text-anchor="middle" fill="#353535" font-weight="normal" textLength="3.75" lengthAdjust="spacingAndGlyphs">8</text>
<text x="39.6" y="440.1" font-size="7.0" text-anchor="end" fill="#666" font-weight="normal" textLength="16.6" lengthAdjust="spacingAndGlyphs">MMFD:</text>
<text x="205.5" y="333.29999999999995" font-size="8.8" text-anchor="start" fill="#353535" font-weight="normal" textLength="27.6" lengthAdjust="spacingAndGlyphs">p=0.707</text>
<line x1="192.5" y1="340.7" x2="203.7" y2="340.7" stroke="#c72f47" stroke-width="1.8"/>
<text x="207.7" y="343.3" font-size="8.8" text-anchor="start" fill="#353535" font-weight="normal" textLength="37.6" lengthAdjust="spacingAndGlyphs">MSD+MFD</text>
<line x1="192.5" y1="351.0" x2="203.7" y2="351.0" stroke="#235c92" stroke-width="1.8"/>
<text x="207.7" y="353.6" font-size="8.8" text-anchor="start" fill="#353535" font-weight="normal" textLength="46.2" lengthAdjust="spacingAndGlyphs">MUD+MMUD</text>
<line x1="192.5" y1="361.29999999999995" x2="203.7" y2="361.29999999999995" stroke="#45b956" stroke-width="1.8"/>
<text x="207.7" y="363.9" font-size="8.8" text-anchor="start" fill="#353535" font-weight="normal" textLength="23.7" lengthAdjust="spacingAndGlyphs">MMFD</text>
<text x="270" y="223.3" font-size="10.6" text-anchor="start" fill="#111" font-weight="bold" textLength="8.0" lengthAdjust="spacingAndGlyphs" stroke="#111" stroke-width="0.35">D</text>
<text x="411.95" y="228.9" font-size="8.9" text-anchor="middle" fill="#222" font-weight="bold" textLength="20.8" lengthAdjust="spacingAndGlyphs">CRFS</text>
<polygon points="310.90,239.60 316.00,240.75 321.20,241.85 321.90,245.50 327.70,247.00 338.00,247.70 339.40,251.35 341.25,251.35 393.30,251.35 393.30,253.00 505.10,253.00 505.10,279.20 393.30,279.20 393.30,274.70 341.25,274.70 333.00,267.00 328.00,265.00 322.00,262.00 319.70,254.30 318.00,251.00 314.60,247.00 313.00,244.00 310.90,239.60" fill="#c4d6e4" stroke="none" style="mix-blend-mode:multiply"/>
<polygon points="310.90,239.60 314.00,240.50 317.50,243.30 321.90,248.40 327.70,249.20 338.70,253.50 341.25,254.30 393.30,254.30 393.30,257.40 505.10,257.40 503.00,283.70 505.10,283.70 505.10,281.70 412.70,281.70 412.70,280.50 393.30,280.50 393.30,277.70 355.00,277.70 355.00,276.10 332.50,276.10 331.25,270.00 326.30,268.20 321.90,265.20 319.00,255.00 317.00,249.00 314.00,245.00 310.90,239.60" fill="#f1c4cd" stroke="none" style="mix-blend-mode:multiply"/>
<polyline points="310.90,239.80 314.20,239.80 315.30,242.20 316.00,244.00 317.50,245.10 318.60,247.00 319.70,248.80 320.80,252.40 322.25,256.80 324.45,257.90 326.30,259.00 329.20,260.85 332.85,264.60 332.85,264.60 354.40,264.60 354.40,266.30 379.90,266.30 379.90,268.40 412.70,268.40 412.70,270.00 505.10,270.00 505.10,273.50" fill="none" stroke="#c72f47" stroke-width="1.45" stroke-linejoin="miter"/>
<polyline points="310.90,239.80 313.10,239.80 313.50,242.60 314.20,244.00 314.60,245.10 316.00,245.90 317.50,247.00 318.60,247.70 320.10,248.10 321.20,250.25 321.90,252.80 322.60,255.40 328.10,255.40 328.80,257.20 338.00,257.20 340.20,261.20 340.90,263.20 340.90,263.20 393.30,263.20 393.30,266.40 505.10,266.40" fill="none" stroke="#235c92" stroke-width="1.45" stroke-linejoin="miter"/>
<line x1="311.0" y1="232.0" x2="311.0" y2="396.4" stroke="#555" stroke-width="2"/>
<line x1="310.0" y1="395.5" x2="512.9" y2="395.5" stroke="#555" stroke-width="1.8"/>
<line x1="307.0" y1="239.5" x2="311.0" y2="239.5" stroke="#555" stroke-width="1.2"/>
<text x="304.9" y="242.7" font-size="9.2" text-anchor="end" fill="#353535" font-weight="normal" textLength="12.3" lengthAdjust="spacingAndGlyphs">100</text>
<line x1="307.0" y1="278.5" x2="311.0" y2="278.5" stroke="#555" stroke-width="1.2"/>
<text x="304.9" y="281.7" font-size="9.2" text-anchor="end" fill="#353535" font-weight="normal" textLength="9.0" lengthAdjust="spacingAndGlyphs">75</text>
<line x1="307.0" y1="317.5" x2="311.0" y2="317.5" stroke="#555" stroke-width="1.2"/>
<text x="304.9" y="320.7" font-size="9.2" text-anchor="end" fill="#353535" font-weight="normal" textLength="9.0" lengthAdjust="spacingAndGlyphs">50</text>
<line x1="307.0" y1="356.5" x2="311.0" y2="356.5" stroke="#555" stroke-width="1.2"/>
<text x="304.9" y="359.7" font-size="9.2" text-anchor="end" fill="#353535" font-weight="normal" textLength="9.0" lengthAdjust="spacingAndGlyphs">25</text>
<line x1="307.0" y1="395.5" x2="311.0" y2="395.5" stroke="#555" stroke-width="1.2"/>
<text x="304.9" y="398.7" font-size="9.2" text-anchor="end" fill="#353535" font-weight="normal" textLength="4.5" lengthAdjust="spacingAndGlyphs">0</text>
<line x1="310.9" y1="395.5" x2="310.9" y2="398.7" stroke="#555" stroke-width="1.2"/>
<text x="310.9" y="408.3" font-size="9.4" text-anchor="middle" fill="#353535" font-weight="normal" textLength="4.4" lengthAdjust="spacingAndGlyphs">0</text>
<line x1="330.435" y1="395.5" x2="330.435" y2="398.7" stroke="#555" stroke-width="1.2"/>
<text x="330.435" y="408.3" font-size="9.4" text-anchor="middle" fill="#353535" font-weight="normal" textLength="4.4" lengthAdjust="spacingAndGlyphs">6</text>
<line x1="349.96999999999997" y1="395.5" x2="349.96999999999997" y2="398.7" stroke="#555" stroke-width="1.2"/>
<text x="349.96999999999997" y="408.3" font-size="9.4" text-anchor="middle" fill="#353535" font-weight="normal" textLength="7.7" lengthAdjust="spacingAndGlyphs">12</text>
<line x1="369.505" y1="395.5" x2="369.505" y2="398.7" stroke="#555" stroke-width="1.2"/>
<text x="369.505" y="408.3" font-size="9.4" text-anchor="middle" fill="#353535" font-weight="normal" textLength="7.7" lengthAdjust="spacingAndGlyphs">18</text>
<line x1="389.03999999999996" y1="395.5" x2="389.03999999999996" y2="398.7" stroke="#555" stroke-width="1.2"/>
<text x="389.03999999999996" y="408.3" font-size="9.4" text-anchor="middle" fill="#353535" font-weight="normal" textLength="8.8" lengthAdjust="spacingAndGlyphs">24</text>
<line x1="408.575" y1="395.5" x2="408.575" y2="398.7" stroke="#555" stroke-width="1.2"/>
<text x="408.575" y="408.3" font-size="9.4" text-anchor="middle" fill="#353535" font-weight="normal" textLength="8.8" lengthAdjust="spacingAndGlyphs">30</text>
<line x1="428.11" y1="395.5" x2="428.11" y2="398.7" stroke="#555" stroke-width="1.2"/>
<text x="428.11" y="408.3" font-size="9.4" text-anchor="middle" fill="#353535" font-weight="normal" textLength="8.8" lengthAdjust="spacingAndGlyphs">36</text>
<line x1="447.645" y1="395.5" x2="447.645" y2="398.7" stroke="#555" stroke-width="1.2"/>
<text x="447.645" y="408.3" font-size="9.4" text-anchor="middle" fill="#353535" font-weight="normal" textLength="8.8" lengthAdjust="spacingAndGlyphs">42</text>
<line x1="467.18" y1="395.5" x2="467.18" y2="398.7" stroke="#555" stroke-width="1.2"/>
<text x="467.18" y="408.3" font-size="9.4" text-anchor="middle" fill="#353535" font-weight="normal" textLength="8.8" lengthAdjust="spacingAndGlyphs">48</text>
<line x1="486.71500000000003" y1="395.5" x2="486.71500000000003" y2="398.7" stroke="#555" stroke-width="1.2"/>
<text x="486.71500000000003" y="408.3" font-size="9.4" text-anchor="middle" fill="#353535" font-weight="normal" textLength="8.8" lengthAdjust="spacingAndGlyphs">54</text>
<line x1="506.25" y1="395.5" x2="506.25" y2="398.7" stroke="#555" stroke-width="1.2"/>
<text x="506.25" y="408.3" font-size="9.4" text-anchor="middle" fill="#353535" font-weight="normal" textLength="8.8" lengthAdjust="spacingAndGlyphs">60</text>
<text x="0" y="0" font-size="10" text-anchor="middle" fill="#353535" textLength="64.5" lengthAdjust="spacingAndGlyphs" transform="translate(285.6,315.6) rotate(-90)">Survival probability</text>
<text x="310.90" y="421.85" font-size="7.2" text-anchor="middle" fill="#353535" font-weight="normal" textLength="10.3" lengthAdjust="spacingAndGlyphs">103</text>
<text x="330.44" y="421.85" font-size="7.2" text-anchor="middle" fill="#353535" font-weight="normal" textLength="7.5" lengthAdjust="spacingAndGlyphs">85</text>
<text x="349.97" y="421.85" font-size="7.2" text-anchor="middle" fill="#353535" font-weight="normal" textLength="6.55" lengthAdjust="spacingAndGlyphs">81</text>
<text x="369.50" y="421.85" font-size="7.2" text-anchor="middle" fill="#353535" font-weight="normal" textLength="7.5" lengthAdjust="spacingAndGlyphs">80</text>
<text x="389.04" y="421.85" font-size="7.2" text-anchor="middle" fill="#353535" font-weight="normal" textLength="7.5" lengthAdjust="spacingAndGlyphs">78</text>
<text x="408.57" y="421.85" font-size="7.2" text-anchor="middle" fill="#353535" font-weight="normal" textLength="7.5" lengthAdjust="spacingAndGlyphs">74</text>
<text x="428.11" y="421.85" font-size="7.2" text-anchor="middle" fill="#353535" font-weight="normal" textLength="6.55" lengthAdjust="spacingAndGlyphs">71</text>
<text x="447.64" y="421.85" font-size="7.2" text-anchor="middle" fill="#353535" font-weight="normal" textLength="7.5" lengthAdjust="spacingAndGlyphs">69</text>
<text x="467.18" y="421.85" font-size="7.2" text-anchor="middle" fill="#353535" font-weight="normal" textLength="7.5" lengthAdjust="spacingAndGlyphs">63</text>
<text x="486.72" y="421.85" font-size="7.2" text-anchor="middle" fill="#353535" font-weight="normal" textLength="7.5" lengthAdjust="spacingAndGlyphs">57</text>
<text x="506.25" y="421.85" font-size="7.2" text-anchor="middle" fill="#353535" font-weight="normal" textLength="7.5" lengthAdjust="spacingAndGlyphs">49</text>
<text x="303" y="421.85" font-size="7.0" text-anchor="end" fill="#666" font-weight="normal" textLength="27.5" lengthAdjust="spacingAndGlyphs">2006-2013:</text>
<text x="310.90" y="430.85" font-size="7.2" text-anchor="middle" fill="#353535" font-weight="normal" textLength="7.5" lengthAdjust="spacingAndGlyphs">83</text>
<text x="330.44" y="430.85" font-size="7.2" text-anchor="middle" fill="#353535" font-weight="normal" textLength="7.5" lengthAdjust="spacingAndGlyphs">73</text>
<text x="349.97" y="430.85" font-size="7.2" text-anchor="middle" fill="#353535" font-weight="normal" textLength="7.5" lengthAdjust="spacingAndGlyphs">66</text>
<text x="369.50" y="430.85" font-size="7.2" text-anchor="middle" fill="#353535" font-weight="normal" textLength="7.5" lengthAdjust="spacingAndGlyphs">59</text>
<text x="389.04" y="430.85" font-size="7.2" text-anchor="middle" fill="#353535" font-weight="normal" textLength="7.5" lengthAdjust="spacingAndGlyphs">45</text>
<text x="408.57" y="430.85" font-size="7.2" text-anchor="middle" fill="#353535" font-weight="normal" textLength="6.55" lengthAdjust="spacingAndGlyphs">31</text>
<text x="428.11" y="430.85" font-size="7.2" text-anchor="middle" fill="#353535" font-weight="normal" textLength="6.55" lengthAdjust="spacingAndGlyphs">21</text>
<text x="447.64" y="430.85" font-size="7.2" text-anchor="middle" fill="#353535" font-weight="normal" textLength="6.55" lengthAdjust="spacingAndGlyphs">15</text>
<text x="467.18" y="430.85" font-size="7.2" text-anchor="middle" fill="#353535" font-weight="normal" textLength="3.75" lengthAdjust="spacingAndGlyphs">9</text>
<text x="486.72" y="430.85" font-size="7.2" text-anchor="middle" fill="#353535" font-weight="normal" textLength="3.75" lengthAdjust="spacingAndGlyphs">4</text>
<text x="506.25" y="430.85" font-size="7.2" text-anchor="middle" fill="#353535" font-weight="normal" textLength="3.75" lengthAdjust="spacingAndGlyphs">4</text>
<text x="303" y="430.85" font-size="7.0" text-anchor="end" fill="#666" font-weight="normal" textLength="27.5" lengthAdjust="spacingAndGlyphs">2014-2017:</text>
<text x="461.1" y="332.9" font-size="8.8" text-anchor="start" fill="#353535" font-weight="normal" textLength="27.7" lengthAdjust="spacingAndGlyphs">p=0.643</text>
<line x1="446.4" y1="341.3" x2="457.7" y2="341.3" stroke="#c72f47" stroke-width="1.8"/>
<text x="461.1" y="343.90000000000003" font-size="8.8" text-anchor="start" fill="#353535" font-weight="normal" textLength="36" lengthAdjust="spacingAndGlyphs">2006–2013</text>
<line x1="446.4" y1="352.6" x2="457.7" y2="352.6" stroke="#235c92" stroke-width="1.8"/>
<text x="461.1" y="355.20000000000005" font-size="8.8" text-anchor="start" fill="#353535" font-weight="normal" textLength="36" lengthAdjust="spacingAndGlyphs">2014–2017</text>
<text x="7.2" y="458.9" font-size="10.6" text-anchor="start" fill="#111" font-weight="bold" textLength="8.0" lengthAdjust="spacingAndGlyphs" stroke="#111" stroke-width="0.35">E</text>
<text x="149.9" y="464.8" font-size="8.9" text-anchor="middle" fill="#222" font-weight="bold" textLength="20.8" lengthAdjust="spacingAndGlyphs">CRFS</text>
<polygon points="49.20,474.40 59.20,474.40 59.90,479.20 244.50,479.20 244.50,517.80 60.00,517.80 59.40,517.80 58.50,510.00 57.00,502.20 55.00,493.00 53.30,487.50 51.00,480.00 49.20,474.40" fill="#c4d6e4" stroke="none" style="mix-blend-mode:multiply"/>
<polygon points="49.20,474.40 54.80,475.10 59.20,477.30 60.60,481.00 65.00,482.40 67.90,484.60 75.20,485.70 78.20,487.90 78.20,487.90 92.50,487.90 92.50,488.80 149.70,488.80 149.70,491.90 241.90,491.90 241.90,493.00 244.50,493.00 242.70,512.70 244.50,512.70 244.50,508.80 149.70,508.80 149.70,505.20 93.10,505.20 91.90,504.40 84.00,502.20 76.70,500.70 67.90,497.80 65.70,495.60 60.60,494.10 59.20,488.30 55.00,484.00 51.85,480.20 49.20,474.40" fill="#f1c4cd" stroke="none" style="mix-blend-mode:multiply"/>
<polyline points="49.20,474.40 50.00,475.10 51.85,475.85 53.30,478.00 54.40,479.90 56.60,480.20 58.10,482.80 59.50,485.00 60.60,487.20 62.10,487.50 64.30,488.60 65.70,490.10 67.90,491.20 70.85,493.40 76.00,493.40 78.20,495.60 78.20,495.60 93.10,495.60 93.10,496.90 133.30,496.90 133.30,498.60 149.70,498.60 149.70,500.30 241.90,500.30 242.50,502.50 243.80,503.00 244.20,504.00" fill="none" stroke="#c72f47" stroke-width="1.45" stroke-linejoin="miter"/>
<polyline points="48.90,474.40 53.30,474.40 53.70,476.90 54.00,478.80 55.50,479.10 55.90,482.80 57.00,489.00 58.80,489.40 59.50,492.70 59.90,498.90 244.50,498.90" fill="none" stroke="#235c92" stroke-width="1.45" stroke-linejoin="miter"/>
<line x1="49.0" y1="468.0" x2="49.0" y2="619.3" stroke="#555" stroke-width="2"/>
<line x1="48.0" y1="618.4" x2="250.9" y2="618.4" stroke="#555" stroke-width="1.8"/>
<line x1="45.0" y1="474.3" x2="49.0" y2="474.3" stroke="#555" stroke-width="1.2"/>
<text x="42.9" y="477.5" font-size="9.2" text-anchor="end" fill="#353535" font-weight="normal" textLength="12.3" lengthAdjust="spacingAndGlyphs">100</text>
<line x1="45.0" y1="510.325" x2="49.0" y2="510.325" stroke="#555" stroke-width="1.2"/>
<text x="42.9" y="513.525" font-size="9.2" text-anchor="end" fill="#353535" font-weight="normal" textLength="9.0" lengthAdjust="spacingAndGlyphs">75</text>
<line x1="45.0" y1="546.35" x2="49.0" y2="546.35" stroke="#555" stroke-width="1.2"/>
<text x="42.9" y="549.5500000000001" font-size="9.2" text-anchor="end" fill="#353535" font-weight="normal" textLength="9.0" lengthAdjust="spacingAndGlyphs">50</text>
<line x1="45.0" y1="582.375" x2="49.0" y2="582.375" stroke="#555" stroke-width="1.2"/>
<text x="42.9" y="585.575" font-size="9.2" text-anchor="end" fill="#353535" font-weight="normal" textLength="9.0" lengthAdjust="spacingAndGlyphs">25</text>
<line x1="45.0" y1="618.4" x2="49.0" y2="618.4" stroke="#555" stroke-width="1.2"/>
<text x="42.9" y="621.6" font-size="9.2" text-anchor="end" fill="#353535" font-weight="normal" textLength="4.5" lengthAdjust="spacingAndGlyphs">0</text>
<line x1="49.2" y1="618.4" x2="49.2" y2="621.6" stroke="#555" stroke-width="1.2"/>
<text x="49.2" y="631.1999999999999" font-size="9.4" text-anchor="middle" fill="#353535" font-weight="normal" textLength="4.4" lengthAdjust="spacingAndGlyphs">0</text>
<line x1="68.74000000000001" y1="618.4" x2="68.74000000000001" y2="621.6" stroke="#555" stroke-width="1.2"/>
<text x="68.74000000000001" y="631.1999999999999" font-size="9.4" text-anchor="middle" fill="#353535" font-weight="normal" textLength="4.4" lengthAdjust="spacingAndGlyphs">6</text>
<line x1="88.28" y1="618.4" x2="88.28" y2="621.6" stroke="#555" stroke-width="1.2"/>
<text x="88.28" y="631.1999999999999" font-size="9.4" text-anchor="middle" fill="#353535" font-weight="normal" textLength="7.7" lengthAdjust="spacingAndGlyphs">12</text>
<line x1="107.82" y1="618.4" x2="107.82" y2="621.6" stroke="#555" stroke-width="1.2"/>
<text x="107.82" y="631.1999999999999" font-size="9.4" text-anchor="middle" fill="#353535" font-weight="normal" textLength="7.7" lengthAdjust="spacingAndGlyphs">18</text>
<line x1="127.36" y1="618.4" x2="127.36" y2="621.6" stroke="#555" stroke-width="1.2"/>
<text x="127.36" y="631.1999999999999" font-size="9.4" text-anchor="middle" fill="#353535" font-weight="normal" textLength="8.8" lengthAdjust="spacingAndGlyphs">24</text>
<line x1="146.89999999999998" y1="618.4" x2="146.89999999999998" y2="621.6" stroke="#555" stroke-width="1.2"/>
<text x="146.89999999999998" y="631.1999999999999" font-size="9.4" text-anchor="middle" fill="#353535" font-weight="normal" textLength="8.8" lengthAdjust="spacingAndGlyphs">30</text>
<line x1="166.44" y1="618.4" x2="166.44" y2="621.6" stroke="#555" stroke-width="1.2"/>
<text x="166.44" y="631.1999999999999" font-size="9.4" text-anchor="middle" fill="#353535" font-weight="normal" textLength="8.8" lengthAdjust="spacingAndGlyphs">36</text>
<line x1="185.98000000000002" y1="618.4" x2="185.98000000000002" y2="621.6" stroke="#555" stroke-width="1.2"/>
<text x="185.98000000000002" y="631.1999999999999" font-size="9.4" text-anchor="middle" fill="#353535" font-weight="normal" textLength="8.8" lengthAdjust="spacingAndGlyphs">42</text>
<line x1="205.51999999999998" y1="618.4" x2="205.51999999999998" y2="621.6" stroke="#555" stroke-width="1.2"/>
<text x="205.51999999999998" y="631.1999999999999" font-size="9.4" text-anchor="middle" fill="#353535" font-weight="normal" textLength="8.8" lengthAdjust="spacingAndGlyphs">48</text>
<line x1="225.06" y1="618.4" x2="225.06" y2="621.6" stroke="#555" stroke-width="1.2"/>
<text x="225.06" y="631.1999999999999" font-size="9.4" text-anchor="middle" fill="#353535" font-weight="normal" textLength="8.8" lengthAdjust="spacingAndGlyphs">54</text>
<line x1="244.59999999999997" y1="618.4" x2="244.59999999999997" y2="621.6" stroke="#555" stroke-width="1.2"/>
<text x="244.59999999999997" y="631.1999999999999" font-size="9.4" text-anchor="middle" fill="#353535" font-weight="normal" textLength="8.8" lengthAdjust="spacingAndGlyphs">60</text>
<text x="0" y="0" font-size="10" text-anchor="middle" fill="#353535" textLength="64.5" lengthAdjust="spacingAndGlyphs" transform="translate(23.9,536.3) rotate(-90)">Survival probability</text>
<text x="49.20" y="643.2" font-size="7.2" text-anchor="middle" fill="#353535" font-weight="normal" textLength="10.3" lengthAdjust="spacingAndGlyphs">156</text>
<text x="68.74" y="643.2" font-size="7.2" text-anchor="middle" fill="#353535" font-weight="normal" textLength="10.3" lengthAdjust="spacingAndGlyphs">134</text>
<text x="88.28" y="643.2" font-size="7.2" text-anchor="middle" fill="#353535" font-weight="normal" textLength="10.3" lengthAdjust="spacingAndGlyphs">125</text>
<text x="107.82" y="643.2" font-size="7.2" text-anchor="middle" fill="#353535" font-weight="normal" textLength="9.35" lengthAdjust="spacingAndGlyphs">118</text>
<text x="127.36" y="643.2" font-size="7.2" text-anchor="middle" fill="#353535" font-weight="normal" textLength="10.3" lengthAdjust="spacingAndGlyphs">106</text>
<text x="146.90" y="643.2" font-size="7.2" text-anchor="middle" fill="#353535" font-weight="normal" textLength="7.5" lengthAdjust="spacingAndGlyphs">92</text>
<text x="166.44" y="643.2" font-size="7.2" text-anchor="middle" fill="#353535" font-weight="normal" textLength="6.55" lengthAdjust="spacingAndGlyphs">81</text>
<text x="185.98" y="643.2" font-size="7.2" text-anchor="middle" fill="#353535" font-weight="normal" textLength="7.5" lengthAdjust="spacingAndGlyphs">74</text>
<text x="205.52" y="643.2" font-size="7.2" text-anchor="middle" fill="#353535" font-weight="normal" textLength="7.5" lengthAdjust="spacingAndGlyphs">63</text>
<text x="225.06" y="643.2" font-size="7.2" text-anchor="middle" fill="#353535" font-weight="normal" textLength="7.5" lengthAdjust="spacingAndGlyphs">53</text>
<text x="244.60" y="643.2" font-size="7.2" text-anchor="middle" fill="#353535" font-weight="normal" textLength="7.5" lengthAdjust="spacingAndGlyphs">47</text>
<text x="39.75" y="643.2" font-size="7.0" text-anchor="end" fill="#666" font-weight="normal" textLength="22.6" lengthAdjust="spacingAndGlyphs">Age &lt;5 y:</text>
<text x="49.20" y="654.2" font-size="7.2" text-anchor="middle" fill="#353535" font-weight="normal" textLength="7.5" lengthAdjust="spacingAndGlyphs">30</text>
<text x="68.74" y="654.2" font-size="7.2" text-anchor="middle" fill="#353535" font-weight="normal" textLength="7.5" lengthAdjust="spacingAndGlyphs">24</text>
<text x="88.28" y="654.2" font-size="7.2" text-anchor="middle" fill="#353535" font-weight="normal" textLength="7.5" lengthAdjust="spacingAndGlyphs">22</text>
<text x="107.82" y="654.2" font-size="7.2" text-anchor="middle" fill="#353535" font-weight="normal" textLength="6.55" lengthAdjust="spacingAndGlyphs">21</text>
<text x="127.36" y="654.2" font-size="7.2" text-anchor="middle" fill="#353535" font-weight="normal" textLength="6.55" lengthAdjust="spacingAndGlyphs">17</text>
<text x="146.90" y="654.2" font-size="7.2" text-anchor="middle" fill="#353535" font-weight="normal" textLength="6.55" lengthAdjust="spacingAndGlyphs">13</text>
<text x="166.44" y="654.2" font-size="7.2" text-anchor="middle" fill="#353535" font-weight="normal" textLength="5.6" lengthAdjust="spacingAndGlyphs">11</text>
<text x="185.98" y="654.2" font-size="7.2" text-anchor="middle" fill="#353535" font-weight="normal" textLength="6.55" lengthAdjust="spacingAndGlyphs">10</text>
<text x="205.52" y="654.2" font-size="7.2" text-anchor="middle" fill="#353535" font-weight="normal" textLength="3.75" lengthAdjust="spacingAndGlyphs">9</text>
<text x="225.06" y="654.2" font-size="7.2" text-anchor="middle" fill="#353535" font-weight="normal" textLength="3.75" lengthAdjust="spacingAndGlyphs">8</text>
<text x="244.60" y="654.2" font-size="7.2" text-anchor="middle" fill="#353535" font-weight="normal" textLength="3.75" lengthAdjust="spacingAndGlyphs">6</text>
<text x="39.75" y="654.2" font-size="7.0" text-anchor="end" fill="#666" font-weight="normal" textLength="22.6" lengthAdjust="spacingAndGlyphs">Age ≥5 y:</text>
<text x="221.9" y="566.6999999999999" font-size="8.8" text-anchor="start" fill="#353535" font-weight="normal" textLength="27.7" lengthAdjust="spacingAndGlyphs">p=0.954</text>
<line x1="207.2" y1="575.0999999999999" x2="218.4" y2="575.0999999999999" stroke="#c72f47" stroke-width="1.8"/>
<text x="221.9" y="577.6999999999999" font-size="8.8" text-anchor="start" fill="#353535" font-weight="normal" textLength="30.8" lengthAdjust="spacingAndGlyphs">Age &lt;5 y</text>
<line x1="207.2" y1="586.4" x2="218.4" y2="586.4" stroke="#235c92" stroke-width="1.8"/>
<text x="221.9" y="589.0" font-size="8.8" text-anchor="start" fill="#353535" font-weight="normal" textLength="30.8" lengthAdjust="spacingAndGlyphs">Age ≥5 y</text>
<text x="270" y="458.9" font-size="10.6" text-anchor="start" fill="#111" font-weight="bold" textLength="8.0" lengthAdjust="spacingAndGlyphs" stroke="#111" stroke-width="0.35">F</text>
<text x="413" y="465.6" font-size="8.6" text-anchor="middle" fill="#222" font-weight="bold" textLength="70.4" lengthAdjust="spacingAndGlyphs">CRFS hazard ratio</text>
<path d="M316.25,547.00 C317.71,547.50 319.79,549.00 325.00,550.00 C330.21,551.00 338.33,552.25 347.50,553.00 C356.67,553.75 369.58,554.04 380.00,554.50 C390.42,554.96 400.00,555.92 410.00,555.75 C420.00,555.58 431.67,555.08 440.00,553.50 C448.33,551.92 454.58,549.75 460.00,546.25 C465.42,542.75 468.96,536.88 472.50,532.50 C476.04,528.12 477.92,525.00 481.25,520.00 C484.58,515.00 488.12,508.83 492.50,502.50 C496.88,496.17 505.00,485.42 507.50,482.00" fill="none" stroke="#c72f47" stroke-width="1.6"/>
<path d="M315.50,534.25 C316.42,535.38 319.00,539.08 321.00,541.00 C323.00,542.92 322.67,546.12 327.50,545.75 C332.33,545.38 342.08,542.00 350.00,538.75 C357.92,535.50 366.67,529.38 375.00,526.25 C383.33,523.12 393.33,521.54 400.00,520.00 C406.67,518.46 409.17,517.62 415.00,517.00 C420.83,516.38 429.17,516.79 435.00,516.25 C440.83,515.71 445.42,515.62 450.00,513.75 C454.58,511.88 459.17,508.54 462.50,505.00 C465.83,501.46 466.67,498.54 470.00,492.50 C473.33,486.46 480.42,472.71 482.50,468.75" fill="none" stroke="#c72f47" stroke-width="1.6" stroke-dasharray="2.2,1.9"/>
<path d="M316.00,559.25 C316.83,558.54 319.08,556.21 321.00,555.00 C322.92,553.79 325.17,551.67 327.50,552.00 C329.83,552.33 331.25,554.00 335.00,557.00 C338.75,560.00 342.50,565.75 350.00,570.00 C357.50,574.25 372.50,579.33 380.00,582.50 C387.50,585.67 390.00,587.00 395.00,589.00 C400.00,591.00 404.83,593.67 410.00,594.50 C415.17,595.33 420.58,594.50 426.00,594.00 C431.42,593.50 436.00,594.25 442.50,591.50 C449.00,588.75 457.08,582.75 465.00,577.50 C472.92,572.25 482.92,565.00 490.00,560.00 C497.08,555.00 504.58,549.58 507.50,547.50" fill="none" stroke="#c72f47" stroke-width="1.6" stroke-dasharray="2.2,1.9"/>
<line x1="311.0" y1="468.0" x2="311.0" y2="619.15" stroke="#555" stroke-width="2"/>
<line x1="310.0" y1="618.25" x2="514.25" y2="618.25" stroke="#555" stroke-width="1.8"/>
<line x1="307.0" y1="474.0" x2="311.0" y2="474.0" stroke="#555" stroke-width="1.2"/>
<text x="304.9" y="477.2" font-size="9.2" text-anchor="end" fill="#353535" font-weight="normal" textLength="16.0" lengthAdjust="spacingAndGlyphs">20.0</text>
<line x1="307.0" y1="492.1191268597221" x2="311.0" y2="492.1191268597221" stroke="#555" stroke-width="1.2"/>
<text x="304.9" y="495.3191268597221" font-size="9.2" text-anchor="end" fill="#353535" font-weight="normal" textLength="14.8" lengthAdjust="spacingAndGlyphs">10.0</text>
<line x1="307.0" y1="510.2382537194442" x2="311.0" y2="510.2382537194442" stroke="#555" stroke-width="1.2"/>
<text x="304.9" y="513.4382537194442" font-size="9.2" text-anchor="end" fill="#353535" font-weight="normal" textLength="11.5" lengthAdjust="spacingAndGlyphs">5.0</text>
<line x1="307.0" y1="534.190436570139" x2="311.0" y2="534.190436570139" stroke="#555" stroke-width="1.2"/>
<text x="304.9" y="537.3904365701391" font-size="9.2" text-anchor="end" fill="#353535" font-weight="normal" textLength="11.5" lengthAdjust="spacingAndGlyphs">2.0</text>
<line x1="307.0" y1="552.309563429861" x2="311.0" y2="552.309563429861" stroke="#555" stroke-width="1.2"/>
<text x="304.9" y="555.509563429861" font-size="9.2" text-anchor="end" fill="#353535" font-weight="normal" textLength="10.3" lengthAdjust="spacingAndGlyphs">1.0</text>
<line x1="307.0" y1="570.4286902895831" x2="311.0" y2="570.4286902895831" stroke="#555" stroke-width="1.2"/>
<text x="304.9" y="573.6286902895831" font-size="9.2" text-anchor="end" fill="#353535" font-weight="normal" textLength="11.5" lengthAdjust="spacingAndGlyphs">0.5</text>
<line x1="307.0" y1="594.3808731402779" x2="311.0" y2="594.3808731402779" stroke="#555" stroke-width="1.2"/>
<text x="304.9" y="597.580873140278" font-size="9.2" text-anchor="end" fill="#353535" font-weight="normal" textLength="11.5" lengthAdjust="spacingAndGlyphs">0.2</text>
<line x1="307.0" y1="612.5" x2="311.0" y2="612.5" stroke="#555" stroke-width="1.2"/>
<text x="304.9" y="615.7" font-size="9.2" text-anchor="end" fill="#353535" font-weight="normal" textLength="10.3" lengthAdjust="spacingAndGlyphs">0.1</text>
<line x1="315.5" y1="618.25" x2="315.5" y2="621.45" stroke="#555" stroke-width="1.2"/>
<text x="315.5" y="631.05" font-size="9.4" text-anchor="middle" fill="#353535" font-weight="normal" textLength="4.4" lengthAdjust="spacingAndGlyphs">0</text>
<line x1="347.2916666666667" y1="618.25" x2="347.2916666666667" y2="621.45" stroke="#555" stroke-width="1.2"/>
<text x="347.2916666666667" y="631.05" font-size="9.4" text-anchor="middle" fill="#353535" font-weight="normal" textLength="4.4" lengthAdjust="spacingAndGlyphs">5</text>
<line x1="379.0833333333333" y1="618.25" x2="379.0833333333333" y2="621.45" stroke="#555" stroke-width="1.2"/>
<text x="379.0833333333333" y="631.05" font-size="9.4" text-anchor="middle" fill="#353535" font-weight="normal" textLength="7.7" lengthAdjust="spacingAndGlyphs">10</text>
<line x1="410.875" y1="618.25" x2="410.875" y2="621.45" stroke="#555" stroke-width="1.2"/>
<text x="410.875" y="631.05" font-size="9.4" text-anchor="middle" fill="#353535" font-weight="normal" textLength="7.7" lengthAdjust="spacingAndGlyphs">15</text>
<line x1="442.6666666666667" y1="618.25" x2="442.6666666666667" y2="621.45" stroke="#555" stroke-width="1.2"/>
<text x="442.6666666666667" y="631.05" font-size="9.4" text-anchor="middle" fill="#353535" font-weight="normal" textLength="8.8" lengthAdjust="spacingAndGlyphs">20</text>
<line x1="474.45833333333337" y1="618.25" x2="474.45833333333337" y2="621.45" stroke="#555" stroke-width="1.2"/>
<text x="474.45833333333337" y="631.05" font-size="9.4" text-anchor="middle" fill="#353535" font-weight="normal" textLength="8.8" lengthAdjust="spacingAndGlyphs">25</text>
<line x1="506.25" y1="618.25" x2="506.25" y2="621.45" stroke="#555" stroke-width="1.2"/>
<text x="506.25" y="631.05" font-size="9.4" text-anchor="middle" fill="#353535" font-weight="normal" textLength="8.8" lengthAdjust="spacingAndGlyphs">30</text>
<text x="0" y="0" font-size="10" text-anchor="middle" fill="#353535" textLength="50" lengthAdjust="spacingAndGlyphs" transform="translate(283.2,543.1) rotate(-90)">Relative hazard</text>
<text x="412.75" y="643.2" font-size="9" text-anchor="middle" fill="#353535" font-weight="normal" textLength="29.5" lengthAdjust="spacingAndGlyphs">Age at Tx</text>
<rect x="0.5" y="0.5" width="519" height="660" fill="none" stroke="#111" stroke-width="1.2"/>
<rect x="518.6" y="0" width="1.4" height="661" fill="#111"/>
<rect x="0" y="659.6" width="520" height="1.4" fill="#111"/>
</svg></body></html>
